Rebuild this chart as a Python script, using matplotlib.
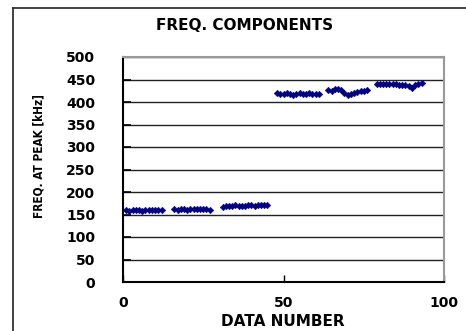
import matplotlib.pyplot as plt
import numpy as np

# data number / frequency at peak, one list per measuring block
block_x = [
    list(range(1, 13)),
    list(range(16, 28)),
    list(range(31, 46)),
    list(range(48, 62)),
    list(range(64, 77)),
    list(range(79, 94)),
]
block_y = [
    [159, 158, 159, 160, 159, 158, 159, 160, 159, 160, 160, 159],
    [162, 161, 162, 162, 161, 162, 162, 163, 162, 163, 162, 161],
    [167, 168, 168, 170, 171, 169, 170, 170, 171, 171, 170, 171, 172, 171, 171],
    [420, 418, 417, 419, 418, 416, 418, 419, 417, 418, 419, 418, 417, 418],
    [426, 425, 428, 430, 426, 420, 416, 417, 421, 423, 424, 425, 427],
    [441, 440, 441, 440, 440, 439, 440, 438, 437, 438, 436, 431, 437, 440, 443],
]
x_ticks = [0, 50, 100]
y_ticks = list(range(0, 501, 50))

NAVY = '#000080'
W, H = 466, 331

fig = plt.figure(figsize=(W / 100, H / 100), dpi=100)
ax = fig.add_axes([123 / W, 1 - 282 / H, (444 - 123) / W, (282 - 57) / H])

for xs, ys in zip(block_x, block_y):
    ax.plot(xs, ys, linestyle='none', marker='D', markersize=3.3,
            color=NAVY, markeredgewidth=0.4, clip_on=False)

ax.set_xlim(0, 100)
ax.set_ylim(0, 500)
ax.set_xticks(x_ticks)
ax.set_yticks(y_ticks)
ax.yaxis.grid(True, color='#222222', linewidth=1.0)
ax.set_axisbelow(True)

tick_font = dict(fontsize=10, fontweight='bold', family='DejaVu Sans')
ax.set_xticklabels([str(v) for v in x_ticks], **tick_font)
ax.set_yticklabels([str(v) for v in y_ticks], **tick_font)
ax.tick_params(axis='y', direction='in', length=6, width=1.2, pad=20)
ax.tick_params(axis='x', direction='in', length=5, width=1.0, pad=10)

for side in ['left', 'bottom']:
    ax.spines[side].set_color('black')
    ax.spines[side].set_linewidth(1.5)
for side in ['top', 'right']:
    ax.spines[side].set_color('#999999')
    ax.spines[side].set_linewidth(1.5)

fig.text(245 / W, 1 - 25 / H, 'FREQ. COMPONENTS', ha='center', va='center',
         fontsize=11, fontweight='bold')
fig.text(283 / W, 1 - 322 / H, 'DATA NUMBER', ha='center', va='center',
         fontsize=11, fontweight='bold')
fig.text(39 / W, 1 - 156 / H, 'FREQ. AT PEAK [kHz]', ha='center', va='center',
         rotation=90, fontsize=8.5, fontstretch='condensed', fontweight='bold',
         family='DejaVu Sans')

# outer chart frame (only left and top edges fall inside the picture)
fig.add_artist(plt.Line2D([12.5 / W, 12.5 / W], [0, 1 - 7.5 / H], transform=fig.transFigure,
                          color='#222222', linewidth=1.2))
fig.add_artist(plt.Line2D([12.5 / W, 1], [1 - 7.5 / H, 1 - 7.5 / H], transform=fig.transFigure,
                          color='#222222', linewidth=1.2))

fig.savefig('out.png', dpi=100)
